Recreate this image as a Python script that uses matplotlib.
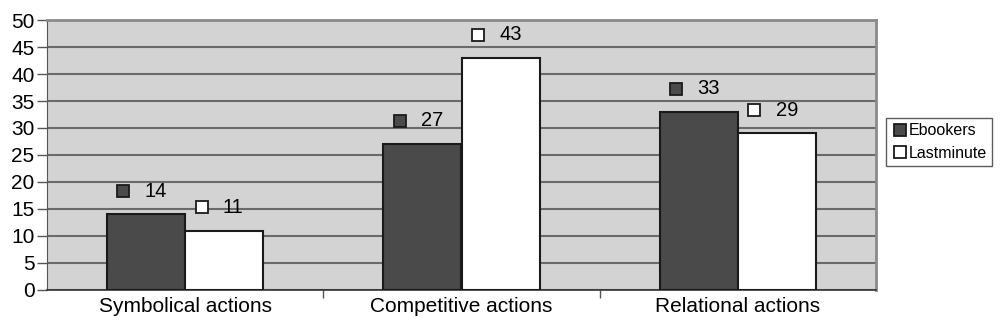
import numpy as np
import matplotlib.pyplot as plt

categories = ["Symbolical actions", "Competitive actions", "Relational actions"]
ebookers = [14, 27, 33]
lastminute = [11, 43, 29]
series_names = ["Ebookers", "Lastminute"]

plt.rcParams['font.family'] = ['Liberation Sans', 'DejaVu Sans']

fig = plt.figure(figsize=(10, 3.34), dpi=100)
ax = fig.add_axes([0.047, 0.132, 0.829, 0.808])
ax.set_facecolor('#d3d3d3')

x = np.arange(len(categories))
w = 0.283
dark = '#4a4a4a'
colors = [dark, 'white']

for i, (vals, col, name) in enumerate(zip([ebookers, lastminute], colors, series_names)):
    pos = x + (i - 0.5) * w
    ax.bar(pos, vals, w, color=col, edgecolor='#1a1a1a', linewidth=1.5,
           zorder=3, label=name)
    for px, v in zip(pos, vals):
        # small key box plus the value text above each bar
        ax.plot(px - 0.082, v + 4.3, marker='s', markersize=8.5, color=col,
                markeredgecolor='#1a1a1a', markeredgewidth=1.3,
                linestyle='none', zorder=4, clip_on=False)
        ax.text(px - 0.005, v + 4.3, str(v), fontsize=14.5, va='center',
                ha='left', zorder=4)

ax.set_xlim(-0.5, 2.5)
ax.set_ylim(0, 50)
ax.set_yticks(np.arange(0, 51, 5))
ax.yaxis.grid(True, color='#6a6a6a', linewidth=1.5, zorder=1)
ax.set_axisbelow(True)
ax.tick_params(axis='y', labelsize=15, length=7, width=1, color='#555555', pad=2)

ax.set_xticks([0.5, 1.5], minor=False)
ax.set_xticklabels([])
ax.set_xticks(x, minor=True)
ax.set_xticklabels(categories, minor=True, fontsize=15)
ax.tick_params(axis='x', which='major', length=6, width=1, color='#555555')
ax.tick_params(axis='x', which='minor', length=0, pad=5)

for side in ['top', 'right']:
    ax.spines[side].set_color('#8a8a8a')
    ax.spines[side].set_linewidth(2)
ax.spines['left'].set_color('#555555')
ax.spines['bottom'].set_color('#333333')
ax.spines['bottom'].set_linewidth(1.2)

handles = [plt.Line2D([], [], marker='s', linestyle='none', markersize=8.5,
                      color=c, markeredgecolor='#1a1a1a', markeredgewidth=1.3)
           for c in colors]
leg = fig.legend(handles, series_names, loc='center left',
                 bbox_to_anchor=(0.886, 0.575), fontsize=11.5, frameon=True,
                 fancybox=False, edgecolor='#333333', handletextpad=0.05,
                 handlelength=1.0, borderpad=0.35, labelspacing=0.45,
                 borderaxespad=0)
leg.get_frame().set_linewidth(1)

fig.savefig('out.png', dpi=100)
